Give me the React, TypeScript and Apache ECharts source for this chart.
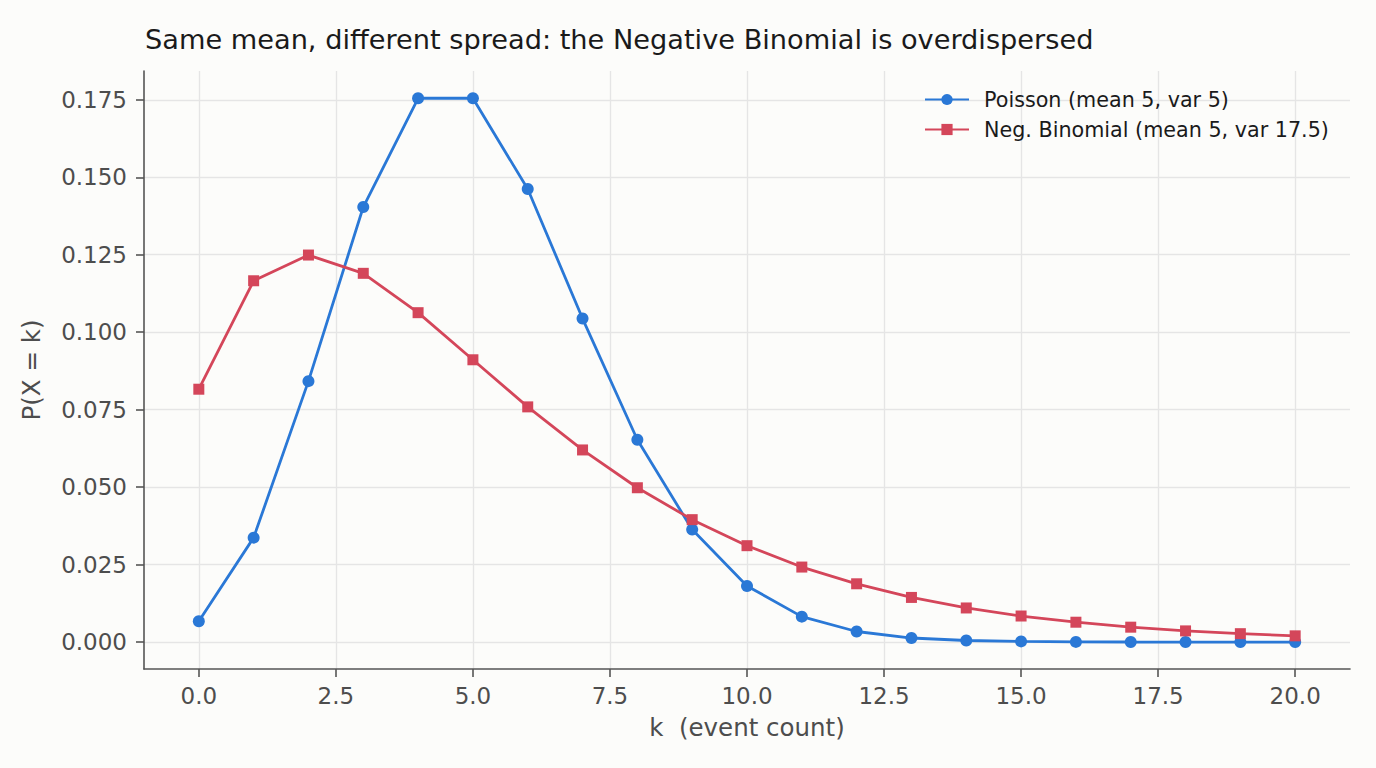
import React, { useEffect, useRef } from "react";
import * as echarts from "echarts";

const kValues = [0, 1, 2, 3, 4, 5, 6, 7, 8, 9, 10, 11, 12, 13, 14, 15, 16, 17, 18, 19, 20];
const poissonValues = [
  0.0067, 0.0337, 0.0842, 0.1404, 0.1755, 0.1755, 0.1462, 0.1044, 0.0653, 0.0363, 0.0181,
  0.0082, 0.0034, 0.0013, 0.0005, 0.0002, 0.00005, 0.00001, 0.0, 0.0, 0.0,
];
const negBinomialValues = [
  0.0816, 0.1166, 0.1249, 0.119, 0.1063, 0.0911, 0.0759, 0.062, 0.0498, 0.0395, 0.0311,
  0.0242, 0.0188, 0.0144, 0.011, 0.0084, 0.0064, 0.0048, 0.0036, 0.0027, 0.002,
];
const xTickValues = [0, 2.5, 5, 7.5, 10, 12.5, 15, 17.5, 20];
const xTickLabels = ["0.0", "2.5", "5.0", "7.5", "10.0", "12.5", "15.0", "17.5", "20.0"];
const yTickValues = [0, 0.025, 0.05, 0.075, 0.1, 0.125, 0.15, 0.175];
const yTickLabels = ["0.000", "0.025", "0.050", "0.075", "0.100", "0.125", "0.150", "0.175"];

const titleText = "Same mean, different spread: the Negative Binomial is overdispersed";
const poissonName = "Poisson (mean 5, var 5)";
const negBinomialName = "Neg. Binomial (mean 5, var 17.5)";
const xAxisName = "k  (event count)";
const yAxisName = "P(X = k)";

const FONT = "'DejaVu Sans', 'Liberation Sans', sans-serif";
const BLUE = "#2a78d6";
const RED = "#d4465a";
const AXIS_COLOR = "#555555";
const LABEL_COLOR = "#4d4d4d";
const GRID_COLOR = "#e5e5e5";

function lookupLabel(values: number[], labels: string[], v: number): string {
  let best = 0;
  for (let i = 1; i < values.length; i++) {
    if (Math.abs(values[i] - v) < Math.abs(values[best] - v)) best = i;
  }
  return labels[best];
}

export default function App() {
  const ref = useRef<HTMLDivElement>(null);

  useEffect(() => {
    if (!ref.current) return;
    const chart = echarts.init(ref.current, undefined, { renderer: "svg" });
    const option: any = {
      animation: false,
      backgroundColor: "#fcfcfa",
      textStyle: { fontFamily: FONT },
      title: {
        text: titleText,
        left: 140,
        top: 21,
        textStyle: { fontFamily: FONT, fontSize: 27.2, fontWeight: "normal", color: "#1a1a1a" },
      },
      legend: {
        orient: "vertical",
        left: 924,
        top: 89,
        padding: 0,
        itemWidth: 44,
        itemHeight: 14,
        itemGap: 9,
        data: [poissonName, negBinomialName],
        textStyle: {
          fontFamily: FONT,
          fontSize: 20.7,
          color: "#1a1a1a",
          padding: [0, 0, 0, 10],
        },
      },
      grid: {
        left: 144,
        right: 26,
        top: 71,
        bottom: 99,
        containLabel: false,
        outerBoundsMode: "none",
      },
      xAxis: {
        type: "value",
        min: -1,
        max: 21,
        name: xAxisName,
        nameLocation: "middle",
        nameGap: 46,
        nameTextStyle: { fontFamily: FONT, fontSize: 24.5, color: LABEL_COLOR },
        axisLine: { show: true, onZero: false, lineStyle: { color: AXIS_COLOR, width: 1.6 } },
        axisTick: {
          show: true,
          inside: false,
          length: 8,
          customValues: xTickValues,
          lineStyle: { color: AXIS_COLOR, width: 1.6 },
        },
        axisLabel: {
          show: true,
          margin: 15,
          customValues: xTickValues,
          fontFamily: FONT,
          fontSize: 23,
          color: LABEL_COLOR,
          formatter: (v: number) => lookupLabel(xTickValues, xTickLabels, v),
        },
        splitLine: { show: true, lineStyle: { color: GRID_COLOR, width: 1.3 } },
      },
      yAxis: {
        type: "value",
        min: -0.0087,
        max: 0.1843,
        name: yAxisName,
        nameLocation: "middle",
        nameGap: 100,
        nameTextStyle: { fontFamily: FONT, fontSize: 24.5, color: LABEL_COLOR },
        axisLine: { show: true, onZero: false, lineStyle: { color: AXIS_COLOR, width: 1.6 } },
        axisTick: {
          show: true,
          inside: false,
          length: 8,
          customValues: yTickValues,
          lineStyle: { color: AXIS_COLOR, width: 1.6 },
        },
        axisLabel: {
          show: true,
          margin: 17,
          customValues: yTickValues,
          fontFamily: FONT,
          fontSize: 23,
          color: LABEL_COLOR,
          formatter: (v: number) => lookupLabel(yTickValues, yTickLabels, v),
        },
        splitLine: { show: true, lineStyle: { color: GRID_COLOR, width: 1.3 } },
      },
      series: [
        {
          name: poissonName,
          type: "line",
          data: kValues.map((k, i) => [k, poissonValues[i]]),
          symbol: "circle",
          symbolSize: 12,
          showAllSymbol: true,
          lineStyle: { color: BLUE, width: 2.8 },
          itemStyle: { color: BLUE },
          z: 3,
        },
        {
          name: negBinomialName,
          type: "line",
          data: kValues.map((k, i) => [k, negBinomialValues[i]]),
          symbol: "rect",
          symbolSize: 11,
          showAllSymbol: true,
          lineStyle: { color: RED, width: 2.8 },
          itemStyle: { color: RED },
          z: 4,
        },
      ],
    };
    chart.setOption(option);
    return () => chart.dispose();
  }, []);

  return (
    <div
      ref={ref}
      style={{ position: "fixed", left: 0, top: 0, width: 1376, height: 768 }}
    />
  );
}
